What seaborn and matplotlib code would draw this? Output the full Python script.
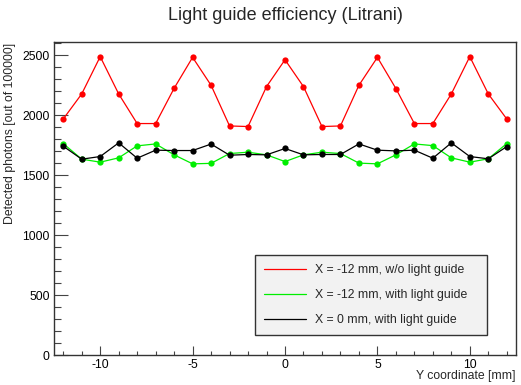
import numpy as np
import pandas as pd
import matplotlib
matplotlib.use("Agg")
import matplotlib.pyplot as plt
import seaborn as sns
from matplotlib.lines import Line2D
from matplotlib.ticker import MultipleLocator

y_coord = list(range(-12, 13))
red_vals = [1968, 2177, 2488, 2177, 1930, 1930, 2224, 2482, 2249, 1910, 1905, 2238, 2462,
            2238, 1905, 1910, 2249, 2482, 2222, 1930, 1930, 2177, 2488, 2177, 1968]
green_vals = [1763, 1633, 1608, 1644, 1744, 1760, 1669, 1594, 1598, 1680, 1691, 1669, 1613,
              1669, 1691, 1680, 1600, 1594, 1669, 1760, 1746, 1644, 1608, 1636, 1763]
black_vals = [1741, 1633, 1655, 1769, 1641, 1708, 1705, 1705, 1759, 1666, 1672, 1669, 1722,
              1669, 1672, 1672, 1760, 1708, 1702, 1708, 1641, 1769, 1655, 1636, 1738]
series_labels = ["X = -12 mm, w/o light guide",
                 "X = -12 mm, with light guide",
                 "X = 0 mm, with light guide"]
series_colors = ["#ff0000", "#00ee00", "#000000"]

df = pd.DataFrame({
    "y": y_coord * 3,
    "v": red_vals + green_vals + black_vals,
    "s": [series_labels[0]] * 25 + [series_labels[1]] * 25 + [series_labels[2]] * 25,
})

sns.set_style("white")
plt.rcParams["font.family"] = ["Liberation Sans", "DejaVu Sans"]
plt.rcParams["axes.unicode_minus"] = False

fig = plt.figure(figsize=(5.21, 3.85), dpi=100)
ax = fig.add_axes([54 / 521, 1 - 355 / 385, 462 / 521, 313 / 385])

palette = dict(zip(series_labels, series_colors))
sns.lineplot(data=df, x="y", y="v", hue="s", palette=palette, marker="o",
             markersize=4.5, markeredgewidth=0, linewidth=0.9, legend=False, ax=ax,
             sort=False)

ax.set_xlim(-12.5, 12.5)
ax.set_ylim(0, 2610)
ax.xaxis.set_major_locator(MultipleLocator(5))
ax.xaxis.set_minor_locator(MultipleLocator(1))
ax.yaxis.set_major_locator(MultipleLocator(500))
ax.yaxis.set_minor_locator(MultipleLocator(100))
ax.tick_params(axis="both", which="both", direction="in", colors="#444444",
               labelcolor="black", labelsize=8.8, bottom=True, left=True,
               top=False, right=False)
ax.tick_params(axis="x", which="major", length=6.5, width=0.8, pad=3)
ax.tick_params(axis="x", which="minor", length=3, width=0.8)
ax.tick_params(axis="y", which="major", length=10, width=0.8, pad=3)
ax.tick_params(axis="y", which="minor", length=5, width=0.8)
for sp in ax.spines.values():
    sp.set_color("#333333")
    sp.set_linewidth(1.0)

ax.set_xlabel("")
ax.set_ylabel("")
fig.text(516 / 521, 1 - 376 / 385, "Y coordinate [mm]", ha="right", va="center", fontsize=8.8)
fig.text(10 / 521, 1 - 43 / 385, "Detected photons [out of 100000]", ha="center", va="top",
         rotation=90, fontsize=8.8)
fig.text(285 / 521, 1 - 15 / 385, "Light guide efficiency (Litrani)", ha="center",
         va="center", fontsize=13)

handles = [Line2D([0], [0], color=c, lw=0.9) for c in series_colors]
leg = ax.legend(handles, series_labels, loc="lower left",
                bbox_to_anchor=(0.435, 0.064, 0.502, 0.249), mode="expand",
                fontsize=8.8, frameon=True, fancybox=False, handlelength=3.4,
                handletextpad=0.75, labelspacing=1.05, borderpad=0.75,
                borderaxespad=0)
leg.get_frame().set_facecolor("#f2f2f2")
leg.get_frame().set_edgecolor("#333333")
leg.get_frame().set_linewidth(1.0)
leg.get_frame().set_alpha(1)

fig.savefig("out.png", dpi=100)
